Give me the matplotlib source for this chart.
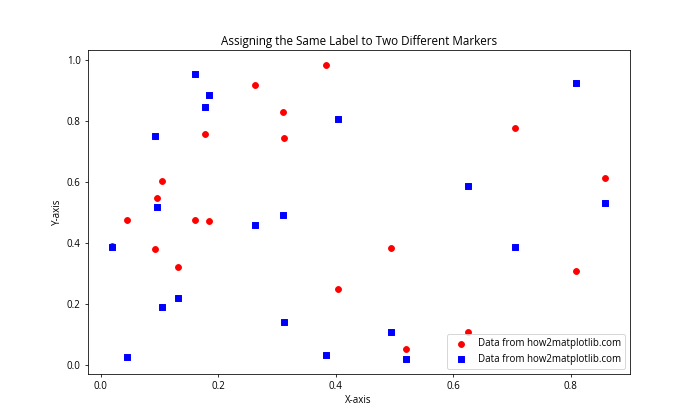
import matplotlib
matplotlib.use('Agg')
import matplotlib.pyplot as plt

# --- Data ---
x = [0.0196, 0.0451, 0.0928, 0.0962, 0.1047, 0.1319, 0.1609, 0.1779, 0.1847, 0.263,
     0.3106, 0.3120, 0.3838, 0.4032, 0.4945, 0.52, 0.6255, 0.7055, 0.8094, 0.8588]
y_red = [0.389, 0.474, 0.379, 0.548, 0.602, 0.320, 0.474, 0.756, 0.471, 0.917,
         0.829, 0.743, 0.983, 0.248, 0.383, 0.0525, 0.108, 0.776, 0.307, 0.613]
y_blue = [0.386, 0.025, 0.750, 0.518, 0.189, 0.219, 0.953, 0.845, 0.884, 0.458,
          0.491, 0.140, 0.032, 0.806, 0.107, 0.0187, 0.586, 0.386, 0.924, 0.530]
label = "Data from how2matplotlib.com"

plt.rcParams['font.family'] = ['Selawik', 'Open Sans', 'DejaVu Sans']

# 10x6 inches at 70 dpi -> 700x420 px
fig, ax = plt.subplots(figsize=(10, 6), dpi=70)
ax.scatter(x, y_red, c='red', marker='o', label=label)
ax.scatter(x, y_blue, c='blue', marker='s', label=label)
ax.set_title("Assigning the Same Label to Two Different Markers")
ax.set_xlabel("X-axis")
ax.set_ylabel("Y-axis")
ax.legend(loc='lower right')

fig.savefig("out.png")
